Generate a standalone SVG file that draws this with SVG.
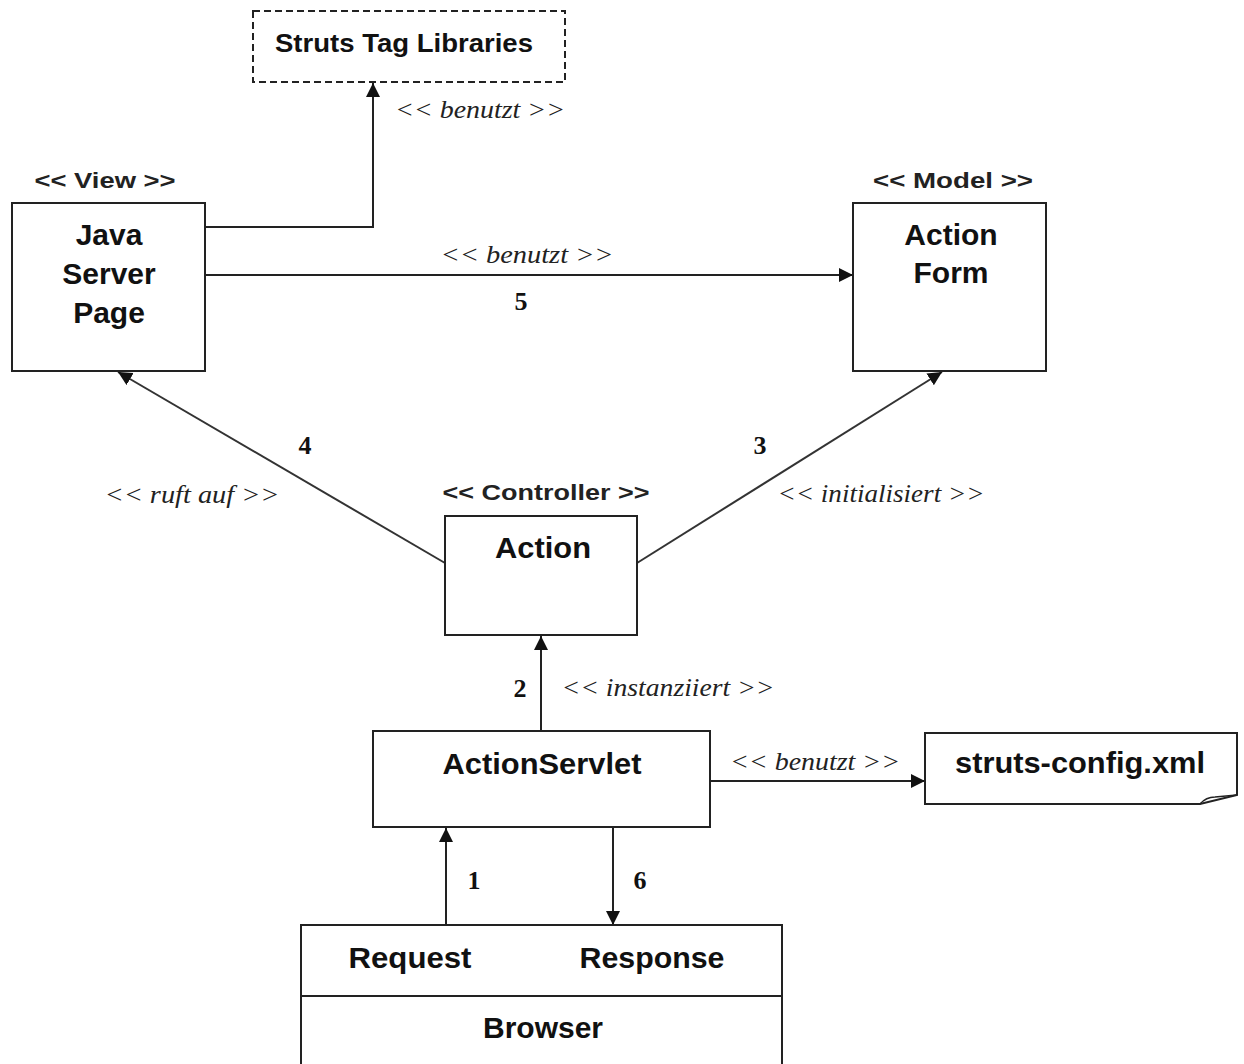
<svg xmlns="http://www.w3.org/2000/svg" width="1244" height="1064" viewBox="0 0 1244 1064">
  <defs>
    <marker id="arrow" markerWidth="15" markerHeight="15" refX="14" refY="7" orient="auto" markerUnits="userSpaceOnUse">
      <path d="M0,0 L14,7 L0,14 Z" fill="#111"/>
    </marker>
    <style>
      .box { fill: #fff; stroke: #222; stroke-width: 2; }
      .dashed { stroke-dasharray: 7 4; }
      .edge { fill: none; stroke: #222; stroke-width: 2; }
      .diag { fill: none; stroke: #333; stroke-width: 2; }
      .title { font-family: "Liberation Sans", Arial, sans-serif; font-weight: bold; fill: #111; text-anchor: middle; }
      .stereo { font-family: "Liberation Sans", Arial, sans-serif; font-weight: bold; font-size: 22px; fill: #222; text-anchor: middle; }
      .rel { font-family: "Liberation Serif", "Times New Roman", serif; font-style: italic; font-size: 25px; fill: #222; text-anchor: middle; }
      .num { font-family: "Liberation Serif", "Times New Roman", serif; font-weight: bold; font-size: 26px; fill: #111; text-anchor: middle; }
    </style>
  </defs>

  <rect width="1244" height="1064" fill="#fff"/>

  <!-- connectors -->
  <g id="connectors">
    <polyline class="edge" points="205,227 373,227 373,83" marker-end="url(#arrow)"/>
    <text class="rel" x="480" y="118" textLength="170" lengthAdjust="spacingAndGlyphs">&lt;&lt; benutzt &gt;&gt;</text>

    <line class="edge" x1="205" y1="275" x2="853" y2="275" marker-end="url(#arrow)"/>
    <text class="rel" x="527" y="263" textLength="173" lengthAdjust="spacingAndGlyphs">&lt;&lt; benutzt &gt;&gt;</text>
    <text class="num" x="521" y="310">5</text>

    <line class="diag" x1="445" y1="563" x2="118" y2="372" marker-end="url(#arrow)"/>
    <text class="num" x="305" y="454">4</text>
    <text class="rel" x="192" y="503" textLength="175" lengthAdjust="spacingAndGlyphs">&lt;&lt; ruft auf &gt;&gt;</text>

    <line class="diag" x1="637" y1="563" x2="942" y2="372" marker-end="url(#arrow)"/>
    <text class="num" x="760" y="454">3</text>
    <text class="rel" x="881" y="502" textLength="207" lengthAdjust="spacingAndGlyphs">&lt;&lt; initialisiert &gt;&gt;</text>

    <line class="edge" x1="541" y1="731" x2="541" y2="636" marker-end="url(#arrow)"/>
    <text class="num" x="520" y="697">2</text>
    <text class="rel" x="668" y="696" textLength="213" lengthAdjust="spacingAndGlyphs">&lt;&lt; instanziiert &gt;&gt;</text>

    <line class="edge" x1="710" y1="781" x2="925" y2="781" marker-end="url(#arrow)"/>
    <text class="rel" x="815" y="770" textLength="170" lengthAdjust="spacingAndGlyphs">&lt;&lt; benutzt &gt;&gt;</text>

    <line class="edge" x1="446" y1="925" x2="446" y2="828" marker-end="url(#arrow)"/>
    <text class="num" x="474" y="889" font-weight="normal">1</text>

    <line class="edge" x1="613" y1="827" x2="613" y2="925" marker-end="url(#arrow)"/>
    <text class="num" x="640" y="889" font-weight="normal">6</text>
  </g>

  <!-- Struts Tag Libraries -->
  <g id="struts-tag-libraries">
    <rect class="box dashed" x="253" y="11" width="312" height="71"/>
    <text class="title" x="404" y="52" font-size="25" textLength="258" lengthAdjust="spacingAndGlyphs">Struts Tag Libraries</text>
  </g>

  <!-- View: Java Server Page -->
  <g id="java-server-page">
    <text class="stereo" x="105" y="188" textLength="141" lengthAdjust="spacingAndGlyphs">&lt;&lt; View &gt;&gt;</text>
    <rect class="box" x="12" y="203" width="193" height="168"/>
    <text class="title" x="109" y="245" font-size="30">Java</text>
    <text class="title" x="109" y="284" font-size="30">Server</text>
    <text class="title" x="109" y="323" font-size="30">Page</text>
  </g>

  <!-- Model: Action Form -->
  <g id="action-form">
    <text class="stereo" x="953" y="188" textLength="160" lengthAdjust="spacingAndGlyphs">&lt;&lt; Model &gt;&gt;</text>
    <rect class="box" x="853" y="203" width="193" height="168"/>
    <text class="title" x="951" y="245" font-size="30">Action</text>
    <text class="title" x="951" y="283" font-size="30">Form</text>
  </g>

  <!-- Controller: Action -->
  <g id="action">
    <text class="stereo" x="546" y="500" textLength="207" lengthAdjust="spacingAndGlyphs">&lt;&lt; Controller &gt;&gt;</text>
    <rect class="box" x="445" y="516" width="192" height="119"/>
    <text class="title" x="543" y="558" font-size="30" textLength="96" lengthAdjust="spacingAndGlyphs">Action</text>
  </g>

  <!-- ActionServlet -->
  <g id="action-servlet">
    <rect class="box" x="373" y="731" width="337" height="96"/>
    <text class="title" x="542" y="774" font-size="30" textLength="199" lengthAdjust="spacingAndGlyphs">ActionServlet</text>
  </g>

  <!-- struts-config.xml document with curled corner -->
  <g id="struts-config">
    <path class="box" d="M925,733 H1237 V795 L1200,804 H925 Z"/>
    <path d="M1200,804 Q1206,797 1215,797 L1237,795" fill="none" stroke="#222" stroke-width="1.5"/>
    <text class="title" x="1080" y="773" font-size="30" textLength="250" lengthAdjust="spacingAndGlyphs">struts-config.xml</text>
  </g>

  <!-- Browser -->
  <g id="browser">
    <rect class="box" x="301" y="925" width="481" height="150"/>
    <line x1="301" y1="996" x2="782" y2="996" stroke="#222" stroke-width="2"/>
    <text class="title" x="410" y="968" font-size="30" textLength="123" lengthAdjust="spacingAndGlyphs">Request</text>
    <text class="title" x="652" y="968" font-size="30" textLength="145" lengthAdjust="spacingAndGlyphs">Response</text>
    <text class="title" x="543" y="1038" font-size="30" textLength="120" lengthAdjust="spacingAndGlyphs">Browser</text>
  </g>
</svg>
